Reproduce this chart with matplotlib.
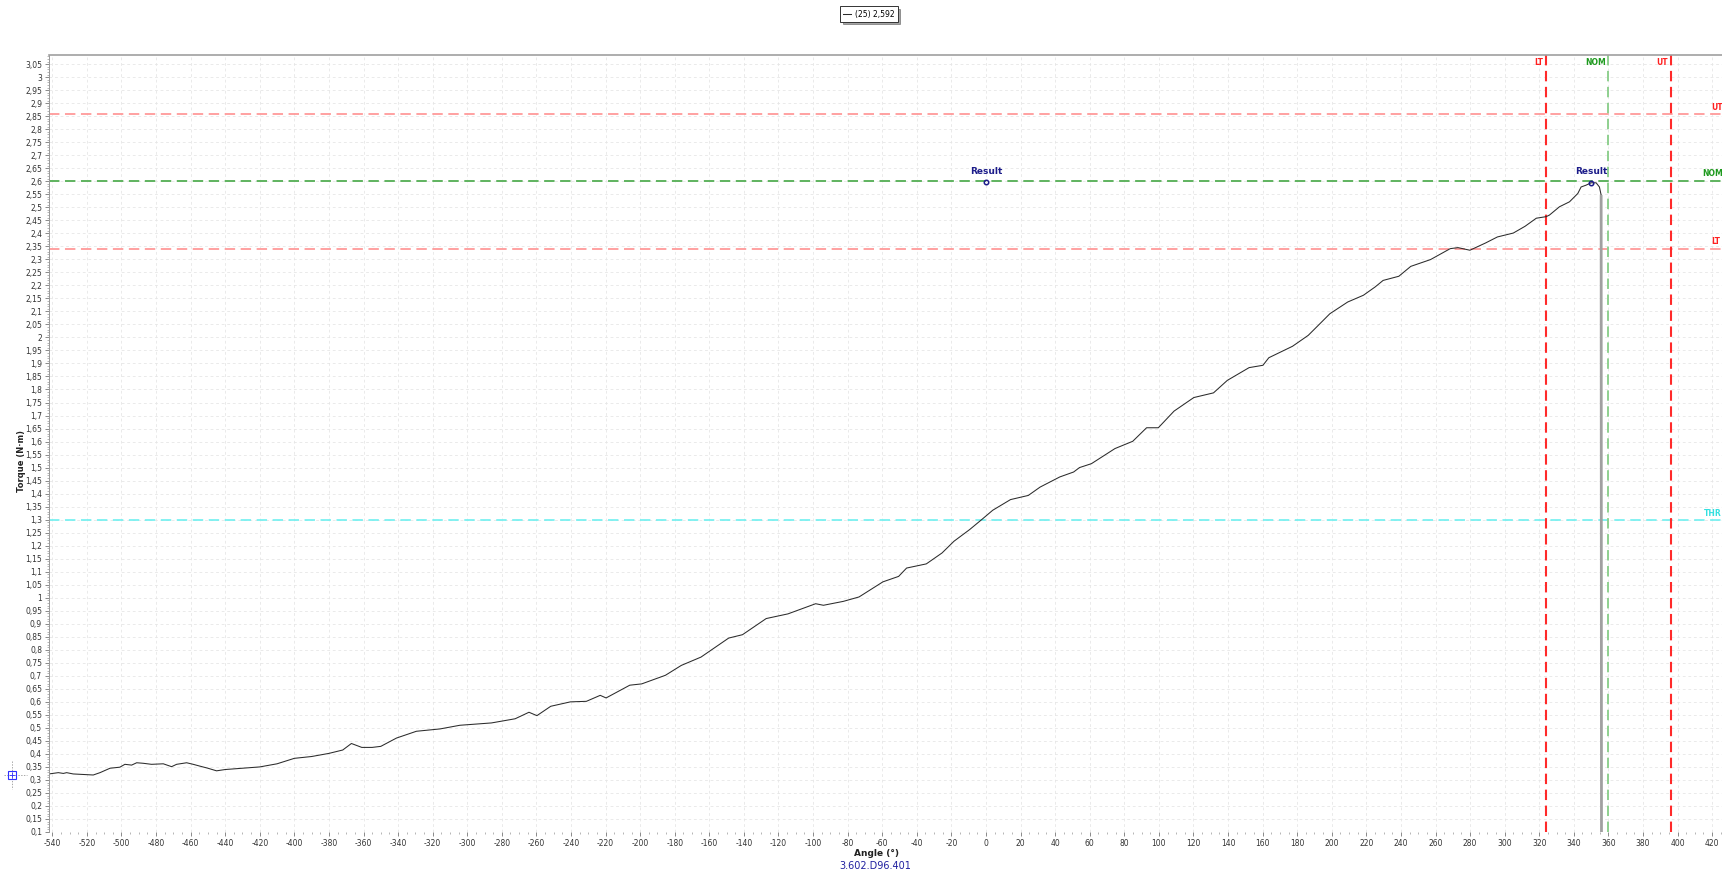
# torque vs angle trace, redrawn from the screenshot
import matplotlib
matplotlib.use("Agg")
import matplotlib.pyplot as plt
from matplotlib.ticker import MultipleLocator, FuncFormatter
from matplotlib.lines import Line2D
import numpy as np

# curve points (angle in deg, torque in N.m)
angle = [-542, -536.5, -533.6, -531.7, -527.9, -516.3, -512.4, -506.6, -500.9, -498, -494.1,
         -491.2, -487.4, -482.6, -475.8, -471, -468.1, -462.3, -458.5, -454.6, -450, -445,
         -440, -430, -420, -410, -400, -390, -380, -372, -367, -361, -355, -350,
         -340.9, -329.4, -315.7, -304.3, -286, -272.3, -264.3, -259.7, -251.7, -240.3, -231.1,
         -223.1, -219.7, -206, -199.1, -185.4, -176.2, -164.8, -148.8, -140.8, -127.1, -114.5,
         -98.5, -94, -82.5, -73.4, -59.6, -50.5, -45.9, -34.5, -25.4, -18.5, -9.4, -2.5,
         3.9, 14.2, 24.5, 31.3, 42.7, 50.7, 54.1, 61, 74.6, 84.9, 92.9, 99.7, 108.8,
         120.2, 131.6, 139.6, 152.2, 160.2, 163.6, 177.3, 186.4, 193.2, 198.9, 209.2, 218.3,
         225.1, 229.7, 238.8, 245.7, 257.1, 268.5, 273, 279.9, 289, 295.8, 305, 311.8,
         318.3, 324, 325.9, 331.7, 337.5, 342.3, 344.2, 347.1, 350, 352.9, 354.8, 355.8]
torque = [0.323, 0.328, 0.325, 0.328, 0.323, 0.319, 0.328, 0.345, 0.349, 0.36, 0.357,
          0.366, 0.364, 0.36, 0.362, 0.351, 0.36, 0.366, 0.36, 0.353, 0.345, 0.335,
          0.34, 0.345, 0.35, 0.362, 0.383, 0.39, 0.402, 0.415, 0.44, 0.425, 0.425, 0.429,
          0.461, 0.487, 0.496, 0.51, 0.519, 0.535, 0.56, 0.547, 0.583, 0.6, 0.602,
          0.625, 0.615, 0.664, 0.669, 0.702, 0.74, 0.772, 0.845, 0.858, 0.92, 0.938,
          0.977, 0.971, 0.986, 1.003, 1.061, 1.082, 1.114, 1.13, 1.172, 1.217, 1.262, 1.3,
          1.336, 1.377, 1.393, 1.425, 1.464, 1.483, 1.5, 1.515, 1.573, 1.601, 1.653, 1.653, 1.717,
          1.769, 1.787, 1.835, 1.884, 1.893, 1.922, 1.966, 2.008, 2.053, 2.091, 2.136, 2.162,
          2.194, 2.219, 2.235, 2.273, 2.299, 2.341, 2.345, 2.335, 2.363, 2.386, 2.401, 2.427,
          2.458, 2.464, 2.47, 2.502, 2.521, 2.553, 2.578, 2.585, 2.594, 2.594, 2.578, 2.547]

# the drop at the end of the run
drop_angle = [355.8, 356.0]
drop_torque = [2.547, 0.1]

# limits
tol_angle = {"LT": 324, "NOM": 360, "UT": 396}
tol_torque = {"UT": 2.86, "NOM": 2.6, "LT": 2.34, "THR": 1.3}

# result markers
result_angle = [0, 350]
result_torque = [2.597, 2.592]

legend_label = "(25) 2,592"
serial = "3.602.D96.401"

plt.rcParams['font.family'] = ['DejaVu Sans']
plt.rcParams['lines.scale_dashes'] = False

fig = plt.figure(figsize=(17.22, 8.74), dpi=100)
ax = fig.add_axes([49/1722, 42/874, 1 - 49/1722, 777/874])

# grid
ax.set_xlim(-541.9, 425.7)
ax.set_ylim(0.1, 3.085)
ax.xaxis.set_major_locator(MultipleLocator(20))
ax.xaxis.set_minor_locator(MultipleLocator(5))
ax.yaxis.set_major_locator(MultipleLocator(0.05))
ax.yaxis.set_minor_locator(MultipleLocator(0.01))
ax.grid(True, which="major", color="#e6e6e6", linestyle=(0, (2, 2)), linewidth=0.6)
ax.set_axisbelow(True)

def comma(v, pos):
    s = "{:g}".format(round(v, 2))
    return s.replace(".", ",")

ax.xaxis.set_major_formatter(FuncFormatter(lambda v, p: "{:g}".format(round(v))))
ax.yaxis.set_major_formatter(FuncFormatter(comma))
ax.tick_params(axis="both", which="major", labelsize=5.5, labelcolor="#333333",
               color="#777777", length=3, width=0.6, pad=2)
ax.tick_params(axis="both", which="minor", color="#999999", length=1.5, width=0.5)

for s in ["right", "bottom"]:
    ax.spines[s].set_visible(False)
ax.spines["top"].set_color("#a0a0a0")
ax.spines["top"].set_linewidth(1.2)
ax.spines["left"].set_color("#999999")
ax.spines["left"].set_linewidth(0.7)

# horizontal tolerance lines
dash = (0, (7.5, 4))
ax.axhline(tol_torque["UT"], color="#ff9a9a", lw=1.3, linestyle=dash)
ax.axhline(tol_torque["LT"], color="#ff9a9a", lw=1.3, linestyle=dash)
ax.axhline(tol_torque["NOM"], color="#5fb35f", lw=1.4, linestyle=dash)
ax.axhline(tol_torque["THR"], color="#6ff0f0", lw=1.2, linestyle=dash)

# vertical tolerance lines
ax.axvline(tol_angle["LT"], color="#ff2a2a", lw=1.5, linestyle=dash)
ax.axvline(tol_angle["UT"], color="#ff2a2a", lw=1.5, linestyle=dash)
ax.axvline(tol_angle["NOM"], color="#8fd08f", lw=1.4, linestyle=dash)

# the trace
line, = ax.plot(angle, torque, color="#2b2b2b", lw=0.75)
ax.plot(drop_angle, drop_torque, color="#a0a0a0", lw=2.0, solid_capstyle="butt")

# result markers
ax.plot(result_angle, result_torque, "o", mfc="none", mec="#1c1c8a", ms=3.2, mew=1.1)
for xa, ya in zip(result_angle, result_torque):
    ax.text(xa, 2.637, "Result", ha="center", va="center", fontsize=6.5,
            fontweight="bold", color="#1c1c8a")

# labels on the limit lines
for k, c in [("LT", "#ff2020"), ("NOM", "#1f9a1f"), ("UT", "#ff2020")]:
    ax.text(tol_angle[k] - 1.5, 3.058, k, ha="right", va="center", fontsize=5.5,
            fontweight="bold", color=c)
ax.text(419.3, 2.885, "UT", ha="left", va="center", fontsize=5.5, fontweight="bold",
        color="#ff2020", clip_on=False)
ax.text(414.0, 2.63, "NOM", ha="left", va="center", fontsize=5.5, fontweight="bold",
        color="#1f9a1f", clip_on=False)
ax.text(419.3, 2.368, "LT", ha="left", va="center", fontsize=5.5, fontweight="bold",
        color="#ff2020", clip_on=False)
ax.text(415.3, 1.325, "THR", ha="left", va="center", fontsize=5.5, fontweight="bold",
        color="#33e0e0", clip_on=False)

# axis titles
fig.text(22/1722, 1 - 461/874, "Torque (N·m)", rotation=90, ha="center", va="center",
         fontsize=6, fontweight="bold", color="#222222")
fig.text(876/1722, 1 - 853/874, "Angle (°)", ha="center", va="center",
         fontsize=6.5, fontweight="bold", color="#222222")
fig.text(875/1722, 1 - 866/874, serial, ha="center", va="center",
         fontsize=7, color="#2020a0")

# little cursor box on the left
fig.add_artist(Line2D([12/1722, 12/1722], [1 - 761/874, 1 - 789/874], color="#999999",
                      lw=0.6, linestyle=(0, (1, 1))))
fig.add_artist(Line2D([4/1722, 27/1722], [1 - 775/874, 1 - 775/874], color="#999999",
                      lw=0.6, linestyle=(0, (1, 1))))
fig.add_artist(Line2D([12/1722], [1 - 775/874], marker="s", mfc="none", mec="#3030ff",
                      ms=6, mew=0.8))
fig.add_artist(Line2D([12/1722], [1 - 775/874], marker="+", color="#3030ff",
                      ms=4, mew=0.6))

# legend at the top
leg = ax.legend([line], [legend_label], loc="center", bbox_to_anchor=(869/1722, 1 - 14/874),
                bbox_transform=fig.transFigure, fontsize=5.5, handlelength=1.0,
                handletextpad=0.5, borderpad=0.4, fancybox=False, shadow=True,
                edgecolor="#333333", framealpha=1)
leg.get_frame().set_linewidth(0.7)

fig.savefig("out.png", dpi=100)
